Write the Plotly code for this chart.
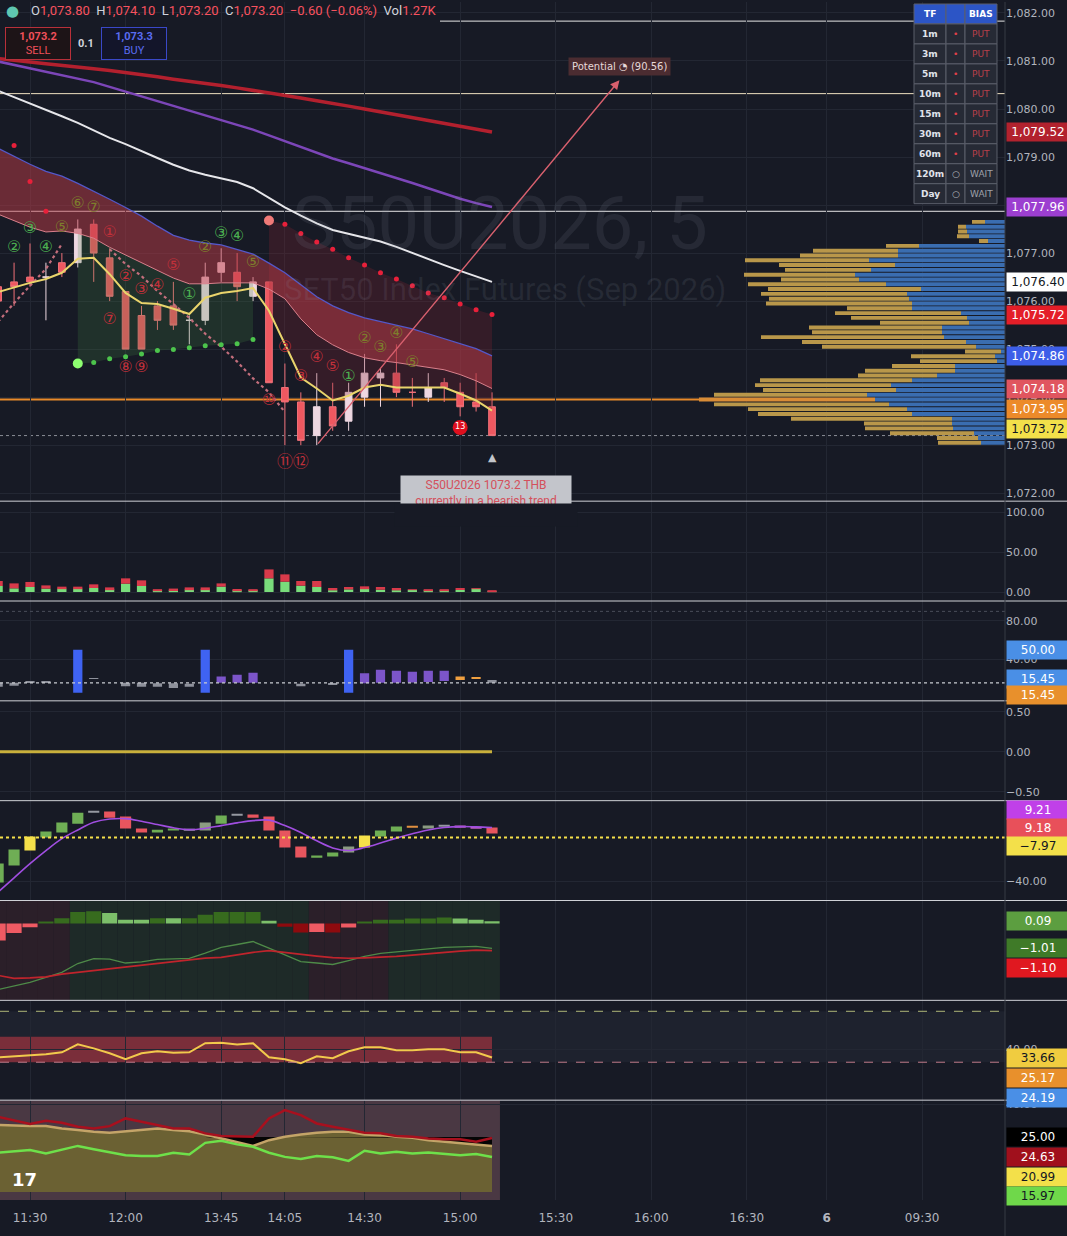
import numpy as np
import plotly.graph_objects as go

# ---------------- chart data ----------------
# 5-minute bars, x = bar index (0 = 11:30)
bar_x = list(range(-2, 30))
tick_pos = [0, 6, 12, 16, 21, 27, 33, 39, 45, 50, 56]
tick_txt = ["11:30", "12:00", "13:45", "14:05", "14:30", "15:00",
            "15:30", "16:00", "16:30", "<b>6</b>", "09:30"]

opens = [1076.3, 1076.4, 1076.5, 1076.5, 1076.8, 1076.8, 1077.6, 1076.9, 1076.2, 1075.7, 1075.9,
         1075.9, 1075.6, 1075.6, 1076.6, 1076.6, 1076.1, 1076.4, 1074.2, 1073.9, 1073.2, 1073.8,
         1073.5, 1074.0, 1074.4, 1074.5, 1074.1, 1074.0, 1074.3, 1074.1, 1073.9, 1073.8]
highs = [1076.4, 1076.8, 1077.2, 1076.8, 1077.0, 1077.7, 1077.7, 1077.1, 1076.2, 1075.9, 1076.0,
         1076.4, 1075.7, 1076.8, 1077.1, 1077.0, 1076.5, 1076.4, 1074.7, 1074.1, 1074.5, 1074.3,
         1074.3, 1074.9, 1074.6, 1075.1, 1074.4, 1074.5, 1074.4, 1074.3, 1074.5, 1074.1]
lows = [1075.9, 1075.9, 1076.3, 1075.6, 1076.5, 1076.7, 1076.4, 1076.0, 1075.0, 1075.0, 1075.4,
        1075.4, 1075.1, 1075.5, 1076.4, 1076.0, 1076.0, 1074.3, 1073.0, 1073.0, 1073.0, 1073.3,
        1073.3, 1073.8, 1073.8, 1074.0, 1073.8, 1073.9, 1073.9, 1073.6, 1073.7, 1073.2]
closes = [1076.0, 1076.3, 1076.4, 1076.5, 1076.6, 1077.5, 1077.0, 1076.1, 1075.0, 1075.0, 1075.6,
          1075.5, 1075.6, 1076.5, 1076.8, 1076.3, 1076.4, 1074.3, 1073.9, 1073.1, 1073.8, 1073.4,
          1074.1, 1074.5, 1074.5, 1074.1, 1074.1, 1074.2, 1074.2, 1073.8, 1073.8, 1073.2]
last_vol = "1.27K"
sell_px, buy_px, spread = 1073.2, 1073.3, 0.1

ma_red = [1081.05, 1081.02, 1080.98, 1080.94, 1080.91, 1080.87, 1080.84, 1080.80, 1080.76, 1080.71,
          1080.67, 1080.62, 1080.58, 1080.53, 1080.49, 1080.44, 1080.39, 1080.34, 1080.28, 1080.23,
          1080.17, 1080.12, 1080.06, 1080.00, 1079.94, 1079.88, 1079.82, 1079.76, 1079.70, 1079.64,
          1079.58, 1079.52]
ma_purple = [1080.99, 1080.92, 1080.85, 1080.78, 1080.71, 1080.64, 1080.56, 1080.46, 1080.36, 1080.26,
             1080.16, 1080.06, 1079.96, 1079.87, 1079.77, 1079.67, 1079.57, 1079.45, 1079.33, 1079.21,
             1079.09, 1078.97, 1078.87, 1078.77, 1078.67, 1078.57, 1078.46, 1078.35, 1078.24, 1078.13,
             1078.04, 1077.96]
ma_white = [1080.38, 1080.25, 1080.12, 1079.99, 1079.85, 1079.71, 1079.55, 1079.40, 1079.27, 1079.12,
            1078.98, 1078.84, 1078.72, 1078.63, 1078.55, 1078.48, 1078.35, 1078.15, 1077.95, 1077.78,
            1077.62, 1077.48, 1077.40, 1077.32, 1077.24, 1077.13, 1077.00, 1076.88, 1076.75, 1076.63,
            1076.51, 1076.40]
ema_yellow = [1076.19, 1076.29, 1076.38, 1076.46, 1076.59, 1076.88, 1076.90, 1076.56, 1076.17, 1075.96,
              1075.94, 1075.84, 1075.73, 1076.07, 1076.17, 1076.21, 1076.27, 1075.80, 1075.11, 1074.41,
              1074.18, 1073.93, 1074.03, 1074.20, 1074.26, 1074.20, 1074.20, 1074.20, 1074.20, 1074.07,
              1073.93, 1073.72]
band_upper = [1079.18, 1079.01, 1078.85, 1078.70, 1078.60, 1078.45, 1078.29, 1078.12, 1077.95, 1077.77,
              1077.56, 1077.37, 1077.27, 1077.21, 1077.17, 1077.08, 1076.98, 1076.79, 1076.59, 1076.34,
              1076.09, 1075.90, 1075.76, 1075.65, 1075.57, 1075.49, 1075.42, 1075.32, 1075.22, 1075.11,
              1075.01, 1074.86]
band_lower = [1077.81, 1077.68, 1077.54, 1077.44, 1077.46, 1077.41, 1077.31, 1077.12, 1076.96, 1076.79,
              1076.63, 1076.48, 1076.36, 1076.36, 1076.38, 1076.38, 1076.38, 1076.25, 1076.05, 1075.63,
              1075.30, 1075.09, 1074.93, 1074.82, 1074.76, 1074.72, 1074.67, 1074.63, 1074.57, 1074.47,
              1074.34, 1074.18]
sar_red = [None, 1079.24, 1078.49, 1077.87, None, None, None, None, None, None, None, None, None, None,
           None, None, None, 1077.68, 1077.60, 1077.41, 1077.23, 1077.08, 1076.90, 1076.75, 1076.59,
           1076.46, 1076.32, 1076.17, 1076.07, 1075.94, 1075.82, 1075.72]
sar_green = [None, None, None, None, None, 1074.70, 1074.72, 1074.80, 1074.84, 1074.90, 1074.97,
             1074.99, 1075.03, 1075.07, 1075.09, 1075.11, 1075.20, None, None, None, None, None,
             None, None, None, None, None, None, None, None, None, None]
trail_pink = [1075.57, 1075.96, 1076.32, 1076.67, 1077.19, None, None, 1077.08, 1076.77, 1076.52,
              1076.21, 1075.94, 1075.65, 1075.32, 1075.05, 1074.74, 1074.39, 1074.10, 1073.69, None,
              None, None, None, None, None, None, None, None, None, None, None, None]

levels_white = [1081.83, 1077.87]
level_cream = 1080.32
poc_level = 1073.95

# TD count labels
td_green_x = [-1, 0, 1, 10, 12, 13, 20]
td_green_y = [1077.10, 1077.50, 1077.10, 1076.13, 1077.39, 1077.33, 1074.43]
td_green_t = ["②", "③", "④", "①", "③", "④", "①"]
td_olive_x = [2, 3, 4, 11, 14, 21, 22, 23, 24]
td_olive_y = [1077.52, 1078.02, 1077.93, 1077.10, 1076.79, 1075.22, 1075.03, 1075.32, 1074.72]
td_olive_t = ["⑤", "⑥", "⑦", "②", "⑤", "②", "③", "④", "⑤"]
td_red_x = [5, 6, 7, 8, 9, 5, 6, 7, 16, 17, 18, 19, 15, 16, 17]
td_red_y = [1077.41, 1076.50, 1076.23, 1076.32, 1076.73, 1075.61, 1074.61, 1074.61,
            1075.03, 1074.41, 1074.82, 1074.63, 1073.93, 1072.62, 1072.62]
td_red_t = ["①", "②", "③", "④", "⑤", "⑦", "⑧", "⑨", "②", "③", "④", "⑤", "⑩", "⑪", "⑫"]
td_done = (27, 1073.37, "13")

potential_tail = (18, 1073.0)
potential_head = (37, 1080.6)
potential_val = 90.56

# volume profile (rows of 0.1 pt)
vp_price = [1077.65, 1077.55, 1077.45, 1077.35, 1077.25, 1077.15, 1077.05, 1076.95, 1076.85, 1076.75,
            1076.65, 1076.55, 1076.45, 1076.35, 1076.25, 1076.15, 1076.05, 1075.95, 1075.85, 1075.75,
            1075.65, 1075.55, 1075.45, 1075.35, 1075.25, 1075.15, 1075.05, 1074.95, 1074.85, 1074.75,
            1074.65, 1074.55, 1074.45, 1074.35, 1074.25, 1074.15, 1074.05, 1073.95, 1073.85, 1073.75,
            1073.65, 1073.55, 1073.45, 1073.35, 1073.25, 1073.15, 1073.05]
vp_buy = [20, 39, 38, 36, 17, 86, 107, 107, 136, 110, 134, 150, 146, 119, 84, 98, 96, 93, 93, 44,
          38, 36, 63, 63, 61, 39, 29, 4, 10, 8, 50, 50, 68, 93, 114, 109, 138, 130, 116, 98,
          93, 53, 53, 52, 31, 27, 24]
vp_sell = [13, 8, 9, 12, 9, 33, 85, 98, 124, 116, 86, 111, 78, 138, 153, 146, 140, 146, 65, 126,
           116, 89, 133, 130, 183, 164, 154, 36, 84, 77, 63, 90, 79, 152, 136, 133, 153, 176, 175, 159,
           154, 161, 88, 88, 84, 41, 43]

# pane 2: buy / sell pressure
vol_green = [7.5, 4.6, 6.3, 4.2, 4.2, 4.2, 5.0, 3.3, 10.4, 7.5, 2.1, 1.3, 3.3, 3.3, 6.7, 2.1,
             1.5, 17.1, 12.9, 7.9, 6.3, 2.1, 3.3, 4.6, 2.9, 2.1, 2.5, 2.1, 2.1, 2.5, 4.2, 1.0]
vol_red = [6.3, 6.2, 6.3, 4.1, 2.5, 2.5, 4.6, 2.5, 6.7, 7.1, 1.2, 3.0, 2.5, 2.5, 4.1, 1.7,
           1.8, 11.2, 9.2, 5.9, 7.5, 2.9, 3.0, 2.5, 3.4, 2.9, 0.8, 0.8, 0.8, 2.5, 0.4, 0.5]

# pane 3: signal columns
p3_low = [11.5, 12.5, 15.45, 15.45, None, 5, 19.6, None, 12.0, 11.5, 11.5, 10.0, 11.5, 5, 15.45, 15.45,
          15.45, None, None, 12.0, None, 13.5, 5, 15.0, 15.45, 15.45, 15.9, 16.4, 17.5, 18.5, 19.5, 15.45]
p3_high = [15.45, 15.45, 17.0, 16.5, None, 50, 20.4, None, 15.45, 15.45, 15.0, 15.0, 14.5, 50, 22, 24,
           26, None, None, 14.5, None, 14.3, 50, 25.5, 29, 28, 27, 28, 28, 22, 21, 18.5]
p3_kind = ["gray", "gray", "gray", "gray", None, "blue", "gray", None, "gray", "gray", "gray", "gray",
           "gray", "blue", "purple", "purple", "purple", None, None, "gray", None, "gray", "blue",
           "purple", "purple", "purple", "purple", "purple", "purple", "orange", "orange", "gray"]
p3_level = 15.45
p3_upper_level = 90

# pane 4
p4_line = [0.0, 0.0, 0.0, 0.0, 0.0, 0.0, 0.0, 0.0, 0.0, 0.0, 0.0, 0.0, 0.0, 0.0, 0.0, 0.0,
           0.0, 0.0, 0.0, 0.0, 0.0, 0.0, 0.0, 0.0, 0.0, 0.0, 0.0, 0.0, 0.0, 0.0, 0.0, 0.0]

# pane 5: oscillator boxes + smoothed line
p5_low = [-41.3, -25.7, -11.9, 0.0, 4.6, 12.8, 23.5, 18.3, 8.3, 4.6, 4.6, 6.4, 6.6, 6.4, 12.8, 20.6,
          18.3, 6.4, -9.2, -18.3, -18.3, -17.4, -13.8, -9.2, 0.9, 5.5, 9.6, 8.3, 10.6, 9.2, 8.8, 3.7]
p5_high = [-23.9, -11.0, 0.9, 5.5, 13.8, 22.9, 24.3, 23.9, 19.3, 8.3, 7.3, 8.3, 7.4, 13.8, 20.2, 21.4,
           21.1, 19.3, 6.4, -8.3, -16.5, -13.8, -8.3, 1.8, 6.4, 10.1, 10.4, 11.0, 11.4, 11.0, 9.6, 9.18]
p5_kind = ["green", "green", "yellow", "green", "green", "green", "gray", "red", "red", "red", "green",
           "green", "gray", "sage", "green", "gray", "red", "red", "red", "red", "green", "green", "sage",
           "yellow", "green", "green", "orange", "sage", "gray", "magenta", "magenta", "red"]
p5_line = [-50, -37, -24, -12, -1, 7, 14, 17, 17.4, 15, 12, 9, 7.3, 8.5, 11, 13.5,
           15.6, 16, 11, 4.6, -3, -9.5, -11.9, -9.2, -5, -0.5, 3.5, 7, 9.2, 10.1, 9.8, 9.21]
p5_extra = -7.97

# pane 6: MACD-style
p6_hist = [-0.69, -0.39, -0.15, 0.04, 0.21, 0.46, 0.50, 0.42, 0.15, 0.15, 0.21, 0.21, 0.21, 0.35, 0.46,
           0.46, 0.46, 0.11, -0.13, -0.36, -0.34, -0.36, -0.16, 0.04, 0.15, 0.15, 0.20, 0.20, 0.24,
           0.20, 0.15, 0.09]
p6_kind = ["lr", "lr", "lr", "dg", "dg", "dg", "dg", "lg", "lg", "lg", "dg", "lg", "dg", "dg", "dg",
           "dg", "dg", "lg", "dr", "dr", "lr", "dr", "lr", "dg", "dg", "dg", "dg", "dg", "dg", "lg",
           "lg", "lg"]
p6_macd = [-2.67, -2.52, -2.38, -2.18, -1.98, -1.62, -1.42, -1.44, -1.60, -1.55, -1.45, -1.43, -1.41,
           -1.20, -0.97, -0.85, -0.73, -1.00, -1.27, -1.54, -1.60, -1.66, -1.50, -1.33, -1.21, -1.15,
           -1.09, -1.03, -0.97, -0.95, -0.93, -1.01]
p6_signal = [-2.10, -2.22, -2.20, -2.16, -2.05, -1.98, -1.90, -1.82, -1.74, -1.68, -1.62, -1.54, -1.46,
             -1.40, -1.37, -1.27, -1.17, -1.10, -1.18, -1.25, -1.32, -1.38, -1.41, -1.39, -1.37, -1.33,
             -1.28, -1.22, -1.16, -1.12, -1.08, -1.10]
p6_state = ["bear", "bear", "bear", "bear", "bear", "bull", "bull", "bull", "bull", "bull", "bull",
            "bull", "bull", "bull", "bull", "bull", "bull", "bull", "bull", "bull", "bear", "bear",
            "bear", "bear", "bear", "bull", "bull", "bull", "bull", "bull", "bull", "bull"]

# pane 7: RSI-like
p7_rsi = [33.9, 34.8, 35.5, 36.3, 37.8, 44.0, 40.9, 37.0, 32.4, 37.0, 38.6, 37.4, 37.8, 44.9, 45.3, 44.0,
          44.9, 33.9, 32.4, 29.2, 34.7, 33.1, 38.6, 41.8, 41.8, 39.4, 39.4, 40.2, 40.2, 37.8, 37.8, 33.66]
p7_levels = (30, 70)
p7_zone = (30, 50)
p7_hidden = [25.17, 24.19]

# pane 8: ADX / DMI
p8_adx = [34.2, 32.5, 31.0, 32.4, 31.5, 29.7, 28.9, 30.0, 33.5, 32.0, 30.5, 28.9, 28.9, 26.7, 25.5, 25.2,
          25.2, 33.5, 37.3, 35.0, 31.2, 29.7, 28.5, 27.0, 26.7, 25.5, 25.2, 24.4, 24.0, 24.0, 22.9, 24.63]
p8_tan = [30.5, 30.2, 30.0, 30.0, 28.9, 28.2, 27.4, 27.0, 27.7, 28.5, 28.9, 28.2, 27.7, 26.2, 24.4, 22.9,
          21.0, 23.6, 25.2, 26.2, 27.0, 27.4, 27.4, 26.2, 25.9, 25.2, 24.7, 23.6, 22.9, 22.4, 21.8, 20.99]
p8_green = [17.9, 18.5, 19.1, 17.6, 19.4, 21.0, 19.5, 18.3, 16.8, 16.4, 16.4, 17.9, 17.1, 22.4, 23.3, 21.7,
            20.6, 17.9, 16.0, 15.0, 16.4, 15.8, 14.2, 18.8, 17.6, 18.3, 17.6, 18.0, 17.3, 16.8, 17.3, 15.97]
p8_level = 25.0

# bias table
tf_rows = ["1m", "3m", "5m", "10m", "15m", "30m", "60m", "120m", "Day"]
bias_rows = ["PUT", "PUT", "PUT", "PUT", "PUT", "PUT", "PUT", "WAIT", "WAIT"]

# ---------------- layout constants ----------------
W, H = 1067, 1236
MR, MB = 62, 36
PW, PH = W - MR, H - MB
BG = "#171a25"
GRID = "#232733"
TXT = "#b2b5be"
FONT = "DejaVu Sans"
SYM_FONT = "DejaVu Sans, Noto Sans CJK JP"


def px_x(p):
    return p / PW


def px_y(p):
    return 1 - p / PH


def dom(top, bot):
    return [1 - bot / PH, 1 - top / PH]


def cut(arr, i0, i1):
    return arr[i0 + 2:i1 + 3]


fig = go.Figure()

# ---- main pane: shaded regions ----
fig.add_trace(go.Scatter(x=cut(bar_x, 3, 14), y=cut(sar_green, 3, 14), mode="lines",
                         line=dict(width=0), yaxis="y"))
fig.add_trace(go.Scatter(x=cut(bar_x, 3, 14), y=cut(band_lower, 3, 14), mode="lines",
                         line=dict(width=0), fill="tonexty", fillcolor="rgba(70,130,70,0.22)", yaxis="y"))
fig.add_trace(go.Scatter(x=cut(bar_x, 15, 29), y=cut(ema_yellow, 15, 29), mode="lines",
                         line=dict(width=0), yaxis="y"))
fig.add_trace(go.Scatter(x=cut(bar_x, 15, 29), y=cut(sar_red, 15, 29), mode="lines",
                         line=dict(width=0), fill="tonexty", fillcolor="rgba(130,35,50,0.28)", yaxis="y"))
# band
fig.add_trace(go.Scatter(x=bar_x, y=band_lower, mode="lines",
                         line=dict(color="#d9808c", width=1), yaxis="y"))
fig.add_trace(go.Scatter(x=bar_x, y=band_upper, mode="lines", line=dict(color="#5458c8", width=1.3),
                         fill="tonexty", fillcolor="rgba(190,60,72,0.50)", yaxis="y"))
# moving averages
fig.add_trace(go.Scatter(x=bar_x, y=ma_red, mode="lines", line=dict(color="#b3202e", width=3.5), yaxis="y"))
fig.add_trace(go.Scatter(x=bar_x, y=ma_purple, mode="lines", line=dict(color="#7c46b8", width=2.5), yaxis="y"))
fig.add_trace(go.Scatter(x=bar_x, y=ma_white, mode="lines", line=dict(color="#e6e6ea", width=2), yaxis="y"))
fig.add_trace(go.Scatter(x=bar_x, y=trail_pink, mode="lines",
                         line=dict(color="#c46e7c", width=2.2, dash="dot"), yaxis="y"))

fig.add_trace(go.Candlestick(
    x=bar_x, open=opens, high=highs, low=lows, close=closes, yaxis="y",
    increasing=dict(line=dict(color="#eed7e1", width=1), fillcolor="#eed7e1"),
    decreasing=dict(line=dict(color="#f07078", width=1), fillcolor="#ef5860"),
))
fig.add_trace(go.Scatter(x=bar_x, y=ema_yellow, mode="lines", line=dict(color="#e9d46c", width=2), yaxis="y"))

fig.add_trace(go.Scatter(x=bar_x, y=sar_red, mode="markers",
                         marker=dict(color="#e8203a", size=5), yaxis="y"))
fig.add_trace(go.Scatter(x=[bar_x[17]], y=[sar_red[17]], mode="markers",
                         marker=dict(color="#f07a78", size=10), yaxis="y"))
fig.add_trace(go.Scatter(x=bar_x, y=sar_green, mode="markers",
                         marker=dict(color="#4cc44c", size=5), yaxis="y"))
fig.add_trace(go.Scatter(x=[bar_x[5]], y=[sar_green[5]], mode="markers",
                         marker=dict(color="#8dff70", size=10), yaxis="y"))

for xs, ys, ts, col in [(td_green_x, td_green_y, td_green_t, "#4caf50"),
                        (td_olive_x, td_olive_y, td_olive_t, "#7d7d2c"),
                        (td_red_x, td_red_y, td_red_t, "#c0303a")]:
    fig.add_trace(go.Scatter(x=xs, y=ys, text=ts, mode="text", yaxis="y",
                             textfont=dict(color=col, size=16, family=SYM_FONT)))
fig.add_trace(go.Scatter(x=[td_done[0]], y=[td_done[1]], text=[td_done[2]], mode="markers+text",
                         marker=dict(color="#e00f1e", size=15), textposition="middle center",
                         textfont=dict(color="#ffffff", size=8, family=FONT), yaxis="y"))

# volume profile on its own overlaid x axis (grows leftwards from right edge)
fig.add_trace(go.Bar(y=vp_price, x=vp_buy, base=[0] * len(vp_buy), orientation="h", width=0.082,
                     marker=dict(color="#3a6db0", line=dict(width=0)), xaxis="x2", yaxis="y"))
vp_cols = ["#d98c36" if p == poc_level else "#b9974a" for p in vp_price]
fig.add_trace(go.Bar(y=vp_price, x=vp_sell, base=vp_buy, orientation="h", width=0.082,
                     marker=dict(color=vp_cols, line=dict(width=0)), xaxis="x2", yaxis="y"))

# ---- pane 2 ----
fig.add_trace(go.Bar(x=bar_x, y=vol_green, base=[0] * len(vol_green), width=0.58,
                     marker=dict(color="#79dc7b", line=dict(width=0)), yaxis="y2"))
fig.add_trace(go.Bar(x=bar_x, y=vol_red, base=vol_green, width=0.58,
                     marker=dict(color="#d83a4a", line=dict(width=0)), yaxis="y2"))

# ---- pane 3 ----
p3_cmap = {"gray": "#8e919b", "blue": "#3f63f2", "purple": "#7c55c9", "orange": "#f0a040"}
keep = [k for k in range(len(bar_x)) if p3_kind[k]]
fig.add_trace(go.Bar(x=[bar_x[k] for k in keep], y=[p3_high[k] - p3_low[k] for k in keep],
                     base=[p3_low[k] for k in keep], width=0.58,
                     marker=dict(color=[p3_cmap[p3_kind[k]] for k in keep], line=dict(width=0)),
                     yaxis="y3"))

# ---- pane 4 ----
fig.add_trace(go.Scatter(x=bar_x, y=p4_line, mode="lines", line=dict(color="#c9b03c", width=3), yaxis="y4"))

# ---- pane 5 ----
p5_cmap = {"green": "#6fae55", "sage": "#8c9c82", "yellow": "#f5e04a", "gray": "#9598a1",
           "red": "#e8555e", "orange": "#e09040", "magenta": "#c060c0"}
fig.add_trace(go.Bar(x=bar_x, y=[h - l for h, l in zip(p5_high, p5_low)], base=p5_low, width=0.7,
                     marker=dict(color=[p5_cmap[k] for k in p5_kind], line=dict(width=0)), yaxis="y5"))
fig.add_trace(go.Scatter(x=bar_x, y=p5_line, mode="lines", line=dict(color="#a04ee0", width=1.6, shape="spline"),
                         yaxis="y5"))

# ---- pane 6 ----
r6 = (-3.11, 0.93)
fig.add_trace(go.Bar(x=bar_x, y=[r6[1] - r6[0]] * len(bar_x), base=r6[0], width=1.0,
                     marker=dict(color=["#2b1f29" if s == "bear" else "#1e2a28" for s in p6_state],
                                 line=dict(width=0)), yaxis="y6"))
p6_cmap = {"dg": "#376b1e", "lg": "#7cbf6a", "dr": "#8e0a0e", "lr": "#ef5a63"}
fig.add_trace(go.Bar(x=bar_x, y=p6_hist, base=[0] * len(p6_hist), width=0.95,
                     marker=dict(color=[p6_cmap[k] for k in p6_kind], line=dict(width=0)), yaxis="y6"))
fig.add_trace(go.Scatter(x=bar_x, y=p6_macd, mode="lines", line=dict(color="#4e8a48", width=1.3), yaxis="y6"))
fig.add_trace(go.Scatter(x=bar_x, y=p6_signal, mode="lines", line=dict(color="#c0242c", width=1.6), yaxis="y6"))

# ---- pane 7 ----
fig.add_trace(go.Scatter(x=bar_x, y=p7_rsi, mode="lines", line=dict(color="#f2c94c", width=2), yaxis="y7"))

# ---- pane 8 ----
fig.add_trace(go.Scatter(x=bar_x, y=p8_tan, mode="lines", line=dict(width=0),
                         fill="tozeroy", fillcolor="#6b6133", yaxis="y8"))
fig.add_trace(go.Scatter(x=bar_x, y=[p8_level] * len(bar_x), mode="lines", line=dict(width=0), yaxis="y8"))
fig.add_trace(go.Scatter(x=bar_x, y=list(np.minimum(p8_tan, p8_level)), mode="lines", line=dict(width=0),
                         fill="tonexty", fillcolor="#050505", yaxis="y8"))
fig.add_trace(go.Scatter(x=bar_x, y=p8_tan, mode="lines", line=dict(color="#c4a468", width=2.5), yaxis="y8"))
fig.add_trace(go.Scatter(x=bar_x, y=p8_adx, mode="lines", line=dict(color="#a8101e", width=2.5), yaxis="y8"))
fig.add_trace(go.Scatter(x=bar_x, y=p8_green, mode="lines", line=dict(color="#6ee04a", width=2.5), yaxis="y8"))

# ---------------- axes ----------------
panes = [(0, 500), (500, 600), (600, 700), (700, 800), (800, 900), (900, 1000), (1000, 1100), (1100, 1200)]
ranges = [[1071.834, 1082.228], [-11.25, 113.75], [-3.3, 100.8], [-0.6125, 0.6375],
          [-57.8, 33.9], list(r6), [0.2, 78.6], [-3.6, 41.8]]
ticks = [[1072, 1073, 1074, 1075, 1076, 1077, 1078, 1079, 1080, 1081, 1082], [0, 50, 100], [40, 80],
         [-0.5, 0, 0.5], [-40], [], [40], [40]]

layout_axes = {}
for n, ((top, bot), rng, tv) in enumerate(zip(panes, ranges, ticks), start=1):
    name = "yaxis" if n == 1 else "yaxis%d" % n
    layout_axes[name] = dict(domain=dom(top, bot), range=rng, side="right", anchor="x",
                             tickvals=tv, tickformat=",.2f", showgrid=True, gridcolor=GRID,
                             zeroline=False, showline=False, ticks="", fixedrange=True,
                             tickfont=dict(color=TXT, size=11, family=FONT))

fig.update_layout(
    width=W, height=H, margin=dict(l=0, r=MR, t=0, b=MB),
    paper_bgcolor=BG, plot_bgcolor=BG, showlegend=False, hovermode=False,
    barmode="overlay", boxgap=0.4,
    xaxis=dict(range=[-1.883, 61.2], anchor="y8", tickvals=tick_pos, ticktext=tick_txt,
               showgrid=True, gridcolor=GRID, zeroline=False, showline=False,
               ticks="outside", ticklen=7, tickcolor="rgba(0,0,0,0)",
               tickfont=dict(color=TXT, size=12, family=FONT), rangeslider=dict(visible=False),
               fixedrange=True),
    xaxis2=dict(range=[PW, 0], overlaying="x", anchor="y", visible=False, fixedrange=True),
    **layout_axes,
)

# ---------------- level lines / separators ----------------
fig.add_shape(type="line", xref="paper", x0=px_x(440), x1=1, yref="y", y0=levels_white[0], y1=levels_white[0],
              line=dict(color="#e6e6e6", width=1), layer="below")
fig.add_hline(y=levels_white[1], line=dict(color="#e6e6e6", width=1), layer="below", yref="y")
fig.add_hline(y=level_cream, line=dict(color="#efe0c0", width=1), layer="below", yref="y")
fig.add_hline(y=poc_level, line=dict(color="#e8892a", width=2), layer="below", yref="y")
fig.add_hline(y=closes[-1], line=dict(color="#8a8d96", width=1, dash="dot"), layer="below", yref="y")
fig.add_shape(type="line", xref="paper", x0=0, x1=1, yref="y3", y0=p3_level, y1=p3_level,
              line=dict(color="#c9cbd1", width=1.2, dash="dot"))
fig.add_shape(type="line", xref="paper", x0=0, x1=1, yref="y3", y0=p3_upper_level, y1=p3_upper_level,
              line=dict(color="#4a4e5a", width=1, dash="dot"))
fig.add_shape(type="line", xref="paper", x0=0, x1=1, yref="y5", y0=0, y1=0,
              line=dict(color="#f5e04a", width=2, dash="dot"))
fig.add_shape(type="rect", xref="paper", x0=0, x1=1, yref="y7", y0=p7_levels[0], y1=p7_levels[1],
              fillcolor="#1e222e", line=dict(width=0), layer="below")
fig.add_shape(type="rect", xref="x", x0=bar_x[0] - 0.5, x1=bar_x[-1], yref="y7", y0=p7_zone[0], y1=p7_zone[1],
              fillcolor="#7a2e3a", line=dict(width=0), layer="below")
fig.add_shape(type="line", xref="paper", x0=0, x1=1, yref="y7", y0=p7_levels[1], y1=p7_levels[1],
              line=dict(color="#b0b878", width=1, dash="dash"))
fig.add_shape(type="line", xref="paper", x0=0, x1=1, yref="y7", y0=p7_levels[0], y1=p7_levels[0],
              line=dict(color="#c07a8a", width=1, dash="dash"))
fig.add_shape(type="rect", xref="x", x0=bar_x[0] - 0.5, x1=bar_x[-1] + 0.5, yref="y8 domain", y0=0, y1=1,
              fillcolor="#4a3843", line=dict(width=0), layer="below")

for top, _ in panes[1:]:
    fig.add_shape(type="line", xref="paper", x0=0, x1=W / PW, yref="paper", y0=px_y(top), y1=px_y(top),
                  line=dict(color="#cfd1d6", width=1))
fig.add_shape(type="line", xref="paper", x0=1, x1=1, yref="paper", y0=-MB / PH, y1=1,
              line=dict(color="#363a45", width=1))

# ---------------- bias table (drawn cell by cell) ----------------
tbl_cols = [914, 946, 965, 997]
tbl_top, row_h = 2, 20
tbl_rows = [("<b>TF</b>", "", "<b>BIAS</b>")] + [
    ("<b>%s</b>" % t, "•" if b == "PUT" else "○", b) for t, b in zip(tf_rows, bias_rows)]
for r, row in enumerate(tbl_rows):
    y0, y1 = tbl_top + r * row_h, tbl_top + (r + 1) * row_h
    is_put = r > 0 and bias_rows[r - 1] == "PUT"
    for c in range(3):
        fig.add_shape(type="rect", xref="paper", yref="paper",
                      x0=px_x(tbl_cols[c]), x1=px_x(tbl_cols[c + 1]), y0=px_y(y1), y1=px_y(y0),
                      fillcolor="#2c55c6" if r == 0 else "#262a35", line=dict(color="#5b5f6b", width=1))
        if r == 0 or c == 0:
            col = "#ffffff" if r == 0 else "#e0e3eb"
        elif c == 1:
            col = "#e0404a" if is_put else "#b0b3bb"
        else:
            col = "#b8404a" if is_put else "#9ea1aa"
        fig.add_annotation(xref="paper", yref="paper", x=px_x((tbl_cols[c] + tbl_cols[c + 1]) / 2),
                           y=px_y((y0 + y1) / 2), xanchor="center", yanchor="middle", text=row[c],
                           showarrow=False, font=dict(size=9, color=col, family=FONT))

# ---------------- text decorations ----------------
fig.add_annotation(xref="paper", yref="paper", x=px_x(500), y=px_y(222), xanchor="center", yanchor="middle",
                   text="S50U2026, 5", showarrow=False,
                   font=dict(size=74, color="rgba(150,155,170,0.12)", family="Roboto"))
fig.add_annotation(xref="paper", yref="paper", x=px_x(505), y=px_y(288), xanchor="center", yanchor="middle",
                   text="SET50 Index Futures (Sep 2026)", showarrow=False,
                   font=dict(size=31, color="rgba(150,155,170,0.12)", family="Roboto"))

red = "#f7525f"
chg = closes[-1] - closes[-2]
hdr = ("O<span style='color:%s'>%s</span>&nbsp; H<span style='color:%s'>%s</span>&nbsp; "
       "L<span style='color:%s'>%s</span>&nbsp; C<span style='color:%s'>%s</span>&nbsp; "
       "<span style='color:%s'>%s (%s%%)</span>&nbsp; Vol<span style='color:%s'>%s</span>") % (
    red, f"{opens[-1]:,.2f}", red, f"{highs[-1]:,.2f}", red, f"{lows[-1]:,.2f}", red, f"{closes[-1]:,.2f}",
    red, f"{chg:+.2f}".replace("-", "−"), f"{chg / closes[-2] * 100:.2f}".replace("-", "−"), red, last_vol)
fig.add_annotation(xref="paper", yref="paper", x=px_x(29), y=px_y(9), xanchor="left", yanchor="middle",
                   text=hdr, showarrow=False, font=dict(size=13, color="#d1d4dc", family="Roboto"))
fig.add_annotation(xref="paper", yref="paper", x=px_x(12), y=px_y(9), xanchor="center", yanchor="middle",
                   text="●", showarrow=False, font=dict(size=15, color="#5fc7b0", family=FONT))

fig.add_annotation(xref="paper", yref="paper", x=px_x(38), y=px_y(41.5), xanchor="center", yanchor="middle",
                   width=62, height=29, text=f"<b>{sell_px:,.1f}</b><br>SELL", showarrow=False,
                   bgcolor="#1d1417", bordercolor="#b8303a", borderwidth=1,
                   font=dict(size=11, color="#f0505a", family="Roboto"))
fig.add_annotation(xref="paper", yref="paper", x=px_x(86), y=px_y(41.5), xanchor="center", yanchor="middle",
                   text=f"<b>{spread}</b>", showarrow=False, font=dict(size=11, color="#d1d4dc", family="Roboto"))
fig.add_annotation(xref="paper", yref="paper", x=px_x(133.5), y=px_y(41.5), xanchor="center", yanchor="middle",
                   width=62, height=29, text=f"<b>{buy_px:,.1f}</b><br>BUY", showarrow=False,
                   bgcolor="#13152a", bordercolor="#3a48c8", borderwidth=1,
                   font=dict(size=11, color="#5a6cf0", family="Roboto"))

# potential arrow + label
fig.add_annotation(x=potential_head[0], y=potential_head[1], ax=potential_tail[0], ay=potential_tail[1],
                   xref="x", yref="y", axref="x", ayref="y", text="", showarrow=True,
                   arrowhead=2, arrowsize=1.3, arrowwidth=1.4, arrowcolor="#d8606e")
fig.add_annotation(x=potential_head[0], y=potential_head[1], xref="x", yref="y", yshift=14,
                   text=f"Potential ◔ ({potential_val})", showarrow=False, bgcolor="#4b2c31", borderpad=3,
                   font=dict(size=10, color="#e6d8d8", family=SYM_FONT))

# tooltip under the last candle, clipped at the pane edge
fig.add_annotation(x=bar_x[-1], xref="x", yref="paper", y=px_y(465), xanchor="center", yanchor="bottom",
                   text="▲", showarrow=False, font=dict(size=11, color="#c3c5cb", family=FONT))
fig.add_annotation(x=bar_x[-1] - 0.4, xref="x", yref="paper", y=px_y(474), xanchor="center", yanchor="top",
                   width=166, text=f"S50U2026 {closes[-1]} THB<br>currently in a bearish trend",
                   showarrow=False, bgcolor="#c3c5cb", borderpad=2,
                   font=dict(size=12, color="#d4505c", family="Roboto"))
fig.add_annotation(x=bar_x[-1] - 0.4, xref="x", yref="paper", y=px_y(501.5), xanchor="center", yanchor="top",
                   width=180, height=20, text=" ", showarrow=False, bgcolor=BG)

fig.add_annotation(xref="paper", yref="paper", x=px_x(24), y=px_y(1179), xanchor="center", yanchor="middle",
                   text="<b>17</b>", showarrow=False, font=dict(size=18, color="#ffffff", family=FONT))

# ---------------- right-axis value labels ----------------
WHITE, DARK = "#ffffff", "#131722"
axis_labels = [
    ("y", ma_red[-1], "#b2222e", WHITE, 0), ("y", ma_purple[-1], "#9c3fd0", WHITE, 0),
    ("y", ma_white[-1], "#ffffff", DARK, 0), ("y", sar_red[-1], "#e41e28", WHITE, 0),
    ("y", band_upper[-1], "#3d5ee8", WHITE, 0), ("y", band_lower[-1], "#e0555f", WHITE, 0),
    ("y", poc_level, "#ec8a2a", WHITE, -9), ("y", ema_yellow[-1], "#f3e04a", DARK, -18),
    ("y3", p3_high[5], "#4a8fe6", WHITE, 0), ("y3", p3_level, "#4a8fe6", WHITE, 4),
    ("y3", p3_level, "#e8902c", WHITE, -12),
    ("y5", p5_line[-1], "#c040e8", WHITE, 18), ("y5", p5_high[-1], "#e8505a", WHITE, 0),
    ("y5", p5_extra, "#f3e04a", DARK, 0),
    ("y6", p6_hist[-1], "#5c9e40", WHITE, 0), ("y6", p6_macd[-1], "#3f7a28", WHITE, 0),
    ("y6", p6_signal[-1], "#e01820", WHITE, -17),
    ("y7", p7_rsi[-1], "#f0cc40", DARK, 0), ("y7", p7_hidden[0], "#e8902c", WHITE, -10),
    ("y7", p7_hidden[1], "#4a8fe6", WHITE, -28),
    ("y8", p8_level, "#000000", WHITE, 0), ("y8", p8_adx[-1], "#a0101c", WHITE, -19),
    ("y8", p8_tan[-1], "#f3e04a", DARK, -31), ("y8", p8_green[-1], "#6fd84a", DARK, -39),
]
for yref, v, bg, fg, shift in axis_labels:
    fig.add_annotation(xref="paper", x=1.0, xanchor="left", xshift=1, yref=yref, y=v, yanchor="middle",
                       yshift=shift, text=f"{v:,.2f}".replace("-", "−"), showarrow=False, bgcolor=bg,
                       width=58, borderpad=2, font=dict(size=12, color=fg, family=FONT))

fig.write_html("out.html", config={"displayModeBar": False},
               post_script="document.body.style.margin='0';document.body.style.overflow='hidden';")
